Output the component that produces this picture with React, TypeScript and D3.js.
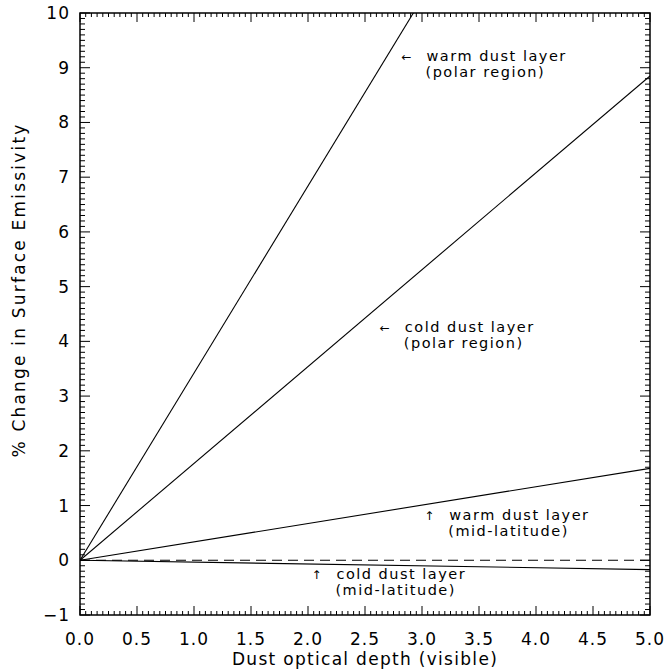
import React from "react";
import * as d3 from "d3";

// optical depth end points and % change in surface emissivity
const depth = [0, 5];
const warmPolar = [0, 17.1];
const coldPolar = [0, 8.85];
const warmMid = [0, 1.68];
const coldMid = [0, -0.17];
const zeroRef = [0, 0];

const xTicks = [0, 0.5, 1, 1.5, 2, 2.5, 3, 3.5, 4, 4.5, 5];
const yTicks = [-1, 0, 1, 2, 3, 4, 5, 6, 7, 8, 9, 10];

const notes = [
  { x: 2.82, y: 9.12, arrow: "←", l1: "warm dust layer", l2: "(polar region)" },
  { x: 2.63, y: 4.17, arrow: "←", l1: "cold dust layer", l2: "(polar region)" },
  { x: 3.02, y: 0.74, arrow: "↑", l1: "warm dust layer", l2: "(mid-latitude)" },
  { x: 2.03, y: -0.34, arrow: "↑", l1: "cold dust layer", l2: "(mid-latitude)" },
];

const font = "DejaVu Sans, sans-serif";

export default function App() {
  const W = 667, H = 672;
  const m = { left: 80, right: 17, top: 13, bottom: 57 };
  const x = d3.scaleLinear().domain([0, 5]).range([m.left, W - m.right]);
  const y = d3.scaleLinear().domain([-1, 10]).range([H - m.bottom, m.top]);

  const line = d3.line<number>().x((d, i) => x(depth[i])).y((d) => y(d));
  const series = [warmPolar, coldPolar, warmMid, coldMid];

  const xMinor = d3.range(0, 5.0001, 0.05);
  const yMinor = d3.range(-1, 10.0001, 0.1);
  const x0 = x(0), x1 = x(5), y0 = y(-1), y1 = y(10);

  return (
    <svg width={W} height={H} style={{ position: "absolute", left: 0, top: 0, background: "#fff" }}>
      <defs>
        <clipPath id="plot">
          <rect x={x0} y={y1} width={x1 - x0} height={y0 - y1} />
        </clipPath>
      </defs>
      <g stroke="#000" strokeWidth={1}>
        {xMinor.map((v, i) => {
          const major = Math.abs(v * 2 - Math.round(v * 2)) < 1e-6;
          const len = major ? 9 : 4;
          return (
            <g key={"x" + i}>
              <line x1={x(v)} x2={x(v)} y1={y0} y2={y0 - len} />
              <line x1={x(v)} x2={x(v)} y1={y1} y2={y1 + len} />
            </g>
          );
        })}
        {yMinor.map((v, i) => {
          const major = Math.abs(v - Math.round(v)) < 1e-6;
          const len = major ? 10 : 5;
          return (
            <g key={"y" + i}>
              <line x1={x0} x2={x0 + len} y1={y(v)} y2={y(v)} />
              <line x1={x1} x2={x1 - len} y1={y(v)} y2={y(v)} />
            </g>
          );
        })}
        <rect x={x0} y={y1} width={x1 - x0} height={y0 - y1} fill="none" strokeWidth={1.5} />
      </g>
      <g clipPath="url(#plot)" fill="none" stroke="#000" strokeWidth={1.1}>
        {series.map((s, i) => (
          <path key={i} d={line(s) || ""} />
        ))}
        <path d={line(zeroRef) || ""} strokeDasharray="10,6" />
      </g>
      <g fontFamily={font} fontSize={17} fill="#000">
        {xTicks.map((v) => (
          <text key={v} x={x(v)} y={y0 + 30} textAnchor="middle" letterSpacing={1}>{v.toFixed(1)}</text>
        ))}
        {yTicks.map((v) => (
          <text key={v} x={x0 - 10} y={y(v) + 6} textAnchor="end" letterSpacing={1}>{v < 0 ? "\u2212" + Math.abs(v) : v}</text>
        ))}
        <text x={(x0 + x1) / 2} y={H - 7} textAnchor="middle" letterSpacing={1.3}>Dust optical depth (visible)</text>
        <text transform={`translate(25,290) rotate(-90)`} textAnchor="middle" letterSpacing={2.2}>% Change in Surface Emissivity</text>
      </g>
      <g fontFamily={font} fontSize={14.5} fill="#000" letterSpacing={1.5}>
        {notes.map((n, i) => (
          <g key={i}>
            <text x={x(n.x)} y={y(n.y)} fontSize={12} letterSpacing={0}>{n.arrow}</text>
            <text x={x(n.x) + 25} y={y(n.y)}>{n.l1}</text>
            <text x={x(n.x) + 24} y={y(n.y) + 16}>{n.l2}</text>
          </g>
        ))}
      </g>
    </svg>
  );
}
